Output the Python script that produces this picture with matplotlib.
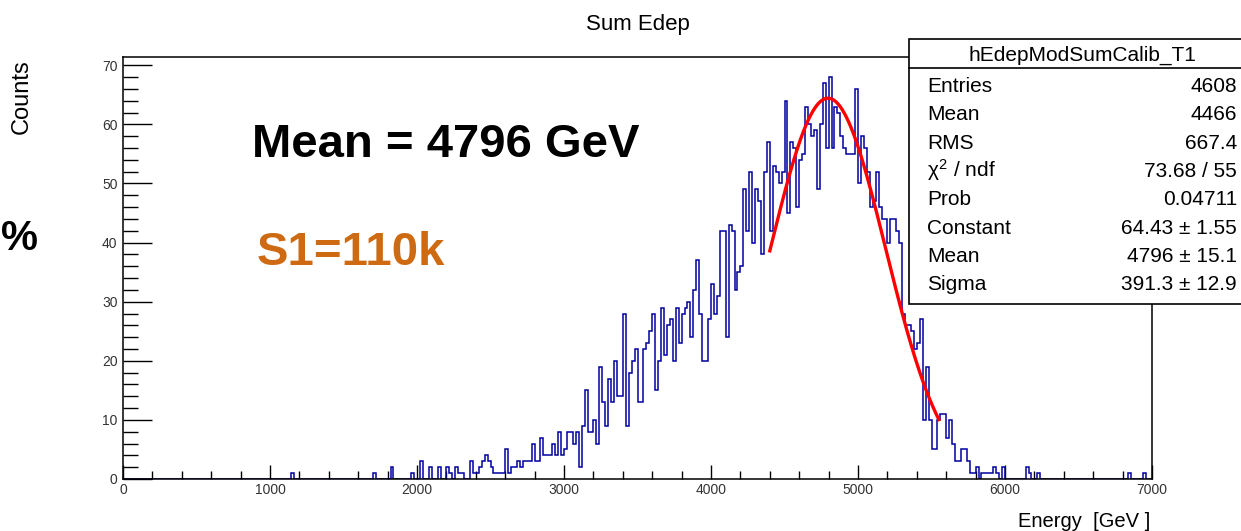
import numpy as np
import matplotlib
matplotlib.use("Agg")
import matplotlib.pyplot as plt
from matplotlib.patches import Rectangle
from matplotlib.lines import Line2D

plt.rcParams['font.family'] = ['Liberation Sans', 'DejaVu Sans']
plt.rcParams['mathtext.fontset'] = 'custom'
plt.rcParams['mathtext.rm'] = 'Liberation Sans'
plt.rcParams['mathtext.it'] = 'Liberation Sans'

# histogram: 350 bins of 20 GeV from 0 to 7000
bin_width = 20
e_min, e_max = 0, 7000

# sparse low-energy bins (bin start [GeV], counts)
low_tail = [(1140, 1), (1700, 1), (1820, 2), (1960, 1), (2020, 3), (2080, 2),
            (2140, 2), (2200, 2), (2220, 1), (2260, 2), (2280, 1), (2300, 1)]

# contiguous bins starting at 2360 GeV
main_start = 2360
main_counts = [
    3, 1, 1, 2, 3, 4, 3, 2, 1, 1, 1, 1, 5, 1, 2, 2, 3, 2, 3, 3,      # 2360-2740
    3, 6, 3, 3, 7, 4, 4, 4, 6, 4, 8, 4,                              # 2760-2980
    5, 8, 8, 6, 8, 2, 9, 15, 8, 8, 10, 6, 19, 13, 9, 17, 13, 20, 14, 14,   # 3000-3380
    28, 9, 18, 20, 22, 13, 13, 22, 23, 25, 28, 15, 20, 29, 21, 26, 27, 20, 29, 23,  # 3400-3780
    28, 29, 30, 24, 32, 37, 28, 20, 20, 27, 33, 28, 31, 42, 42, 24, 43, 42, 32, 35,  # 3800-4180
    36, 49, 42, 52, 40, 49, 47, 38, 52, 57, 42, 53, 52, 50, 52, 64, 45, 57, 56, 46,  # 4200-4580
    54, 55, 63, 60, 58, 59, 49, 60, 67, 56, 68, 56, 63, 62, 58, 56, 55, 55, 55, 66,  # 4600-4980
    50, 58, 56, 52, 46, 47, 52, 46, 44, 44, 40, 44, 44, 42, 40, 28, 26, 26, 25, 22,  # 5000-5380
    23, 27, 10, 19, 10, 5, 5, 10, 11, 11, 7, 10, 6, 3, 3, 5, 5, 3, 1, 1,          # 5400-5780
    2, 0, 1, 1, 1, 1, 2, 1, 0, 2,                                                 # 5800-5980
]

# sparse high-energy bins
high_tail = [(6140, 2), (6160, 1), (6220, 1), (6840, 1), (6940, 1)]

# gaussian fit shown in the stats box
fit_const, fit_mean, fit_sigma = 64.43, 4796.0, 391.3
fit_lo, fit_hi = 4400, 5550

stats_title = "hEdepModSumCalib_T1"
stats_labels = ["Entries", "Mean", "RMS", r"$\chi^{2}$ / ndf", "Prob",
                "Constant", "Mean", "Sigma"]
stats_values = ["4608", "4466", "667.4", "73.68 / 55", "0.04711",
                "64.43 \u00b1 1.55", "4796 \u00b1 15.1", "391.3 \u00b1 12.9"]

# build full count array
edges = np.arange(e_min, e_max + bin_width, bin_width)
counts = np.zeros(len(edges) - 1)
for e, c in low_tail + high_tail:
    counts[e // bin_width] = c
i0 = main_start // bin_width
counts[i0:i0 + len(main_counts)] = main_counts

W, H = 1241, 531
fig = plt.figure(figsize=(W / 100, H / 100), dpi=100)


def fx(x):
    return x / W


def fy(y):
    return 1 - y / H


ax = fig.add_axes([fx(123), fy(479), fx(1152) - fx(123), fy(57) - fy(479)])
ax.stairs(counts, edges, color='#0000a0', lw=1.1, zorder=2)

xf = np.linspace(fit_lo, fit_hi, 300)
ax.plot(xf, fit_const * np.exp(-0.5 * ((xf - fit_mean) / fit_sigma) ** 2),
        color='red', lw=2.4, zorder=3)

ax.set_xlim(e_min, e_max)
ax.set_ylim(0, 1.05 * max(counts))
ax.set_xticks(np.arange(0, 7001, 1000))
ax.set_xticks(np.arange(0, 7001, 200), minor=True)
ax.set_yticks(np.arange(0, 71, 10))
ax.set_yticks(np.arange(0, 71, 2), minor=True)
ax.tick_params(axis='both', which='both', direction='in', colors='black',
               labelcolor='#333333', labelsize=10, width=1.0,
               top=False, right=False)
ax.tick_params(axis='y', which='major', length=21, pad=4)
ax.tick_params(axis='y', which='minor', length=11)
ax.tick_params(axis='x', which='major', length=10, pad=3)
ax.tick_params(axis='x', which='minor', length=5.5)
for s in ax.spines.values():
    s.set_linewidth(1.1)

# titles and axis labels
fig.text(fx(638), fy(30), "Sum Edep", ha='center', va='baseline', fontsize=16)
fig.text(fx(22), fy(97), "Counts", ha='center', va='center', rotation=90,
         fontsize=17)
fig.text(fx(1150), fy(527), "Energy  [GeV ]", ha='right', va='baseline',
         fontsize=14.5)

# overlaid annotations
fig.text(fx(252), fy(157), "Mean = 4796 GeV", ha='left', va='baseline',
         fontsize=34, fontweight='bold', color='black')
fig.text(fx(257), fy(265), "S1=110k", ha='left', va='baseline',
         fontsize=34, fontweight='bold', color='#cd6a12')
fig.text(fx(1), fy(250), "%", ha='left', va='baseline',
         fontsize=30, fontweight='bold', color='black')

# stats box
bx0, bx1, by0, by1, bsep = 909, 1252, 39, 304, 68
fig.add_artist(Rectangle((fx(bx0), fy(by1)), fx(bx1) - fx(bx0), fy(by0) - fy(by1),
                         transform=fig.transFigure, facecolor='white',
                         edgecolor='black', lw=1.2, zorder=10))
fig.add_artist(Line2D([fx(bx0), fx(bx1)], [fy(bsep), fy(bsep)],
                      transform=fig.transFigure, color='black', lw=1.2, zorder=11))
fig.text(fx(1082), fy(61), stats_title, ha='center', va='baseline',
         fontsize=15, zorder=12)
for i, (lab, val) in enumerate(zip(stats_labels, stats_values)):
    yb = 92 + 28.3 * i
    fig.text(fx(927), fy(yb), lab, ha='left', va='baseline', fontsize=15, zorder=12)
    fig.text(fx(1237), fy(yb), val, ha='right', va='baseline', fontsize=15, zorder=12)

fig.savefig("out.png", dpi=100)
